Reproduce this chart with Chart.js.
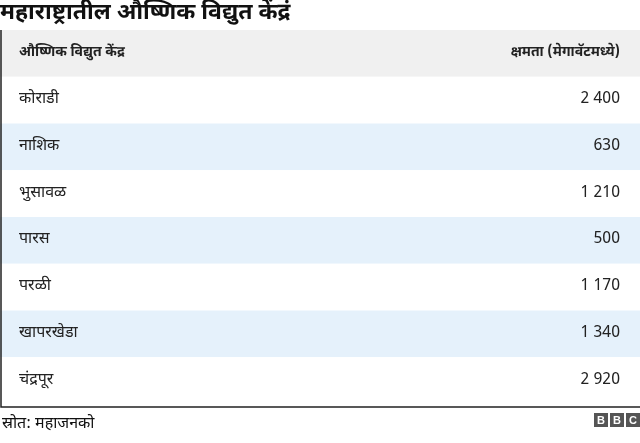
<!DOCTYPE html>
<html><head><meta charset="utf-8">
<script src="https://cdn.jsdelivr.net/npm/chart.js@4"></script>
<style>html,body{margin:0;padding:0;background:#fff}#wrap{width:640px;height:443px}</style>
</head><body><div id="wrap"><canvas id="c"></canvas></div>
<script>
const title = "महाराष्ट्रातील औष्णिक विद्युत केंद्रं";
const headers = ["औष्णिक विद्युत केंद्र", "क्षमता (मेगावॅटमध्ये)"];
const stations = ["कोराडी","नाशिक","भुसावळ","पारस","परळी","खापरखेडा","चंद्रपूर"];
const capacity = [2400,630,1210,500,1170,1340,2920];
const source = "स्रोत: महाजनको";

const FONT = "'Noto Sans Devanagari','Noto Sans','Lato',sans-serif";
const fmt = v => String(v).replace(/\B(?=(\d{3})+(?!\d))/g, " ");
const labels = [headers[0], ...stations];

const tablePlugin = {
  id: 'table',
  beforeDraw(chart) {
    const {ctx, scales: {y}} = chart;
    const h = (y.getPixelForValue(1) - y.getPixelForValue(0));
    ctx.save();
    ctx.fillStyle = '#fff'; ctx.fillRect(0,0,chart.width,chart.height);
    labels.forEach((l,i) => {
      const cy = y.getPixelForValue(i);
      ctx.fillStyle = i===0 ? '#f0f0f0' : (i%2===0 ? '#e5f1fb' : '#ffffff');
      ctx.fillRect(0, cy - h/2, 640, h);
      ctx.fillStyle = '#222';
      ctx.textBaseline = 'middle';
      ctx.font = (i===0?'bold 14px ':'16px ') + FONT;
      ctx.textAlign = 'left';
      ctx.fillText(l, 19, cy);
      ctx.textAlign = 'right';
      ctx.fillText(i===0 ? headers[1] : fmt(capacity[i-1]), 620, cy);
    });
    const bottom = y.getPixelForValue(labels.length-1) + h/2;
    ctx.strokeStyle = '#222'; ctx.lineWidth = 1.5;
    ctx.beginPath(); ctx.moveTo(1, 30); ctx.lineTo(1, bottom+3); ctx.lineTo(640, bottom+3); ctx.stroke();
    ctx.fillStyle = '#111'; ctx.textAlign='left'; ctx.textBaseline='middle';
    ctx.font = 'bold 23px ' + FONT;
    ctx.fillText(title, 0, 15);
    ctx.font = '16px ' + FONT;
    ctx.fillText(source, 2, 425);
    ['B','B','C'].forEach((ch,k) => {
      const x = 594 + k*16;
      ctx.fillStyle = '#555'; ctx.fillRect(x, 413, 14, 14);
      ctx.fillStyle = '#fff'; ctx.font = 'bold 11px Arial,sans-serif'; ctx.textAlign='center';
      ctx.fillText(ch, x+7, 420.5);
    });
    ctx.restore();
  }
};

new Chart(document.getElementById('c'), {
  type: 'bar',
  data: { labels, datasets: [{ data: labels.map(()=>0), backgroundColor: 'rgba(0,0,0,0)' }] },
  options: {
    indexAxis: 'y', responsive: true, maintainAspectRatio: false, animation: false,
    layout: { padding: { top: 30, bottom: 39, left: 0, right: 0 } },
    plugins: { legend: { display: false }, tooltip: { enabled: false } },
    scales: { y: { display: false, offset: true }, x: { display: false } }
  },
  plugins: [tablePlugin]
});
</script></body></html>
